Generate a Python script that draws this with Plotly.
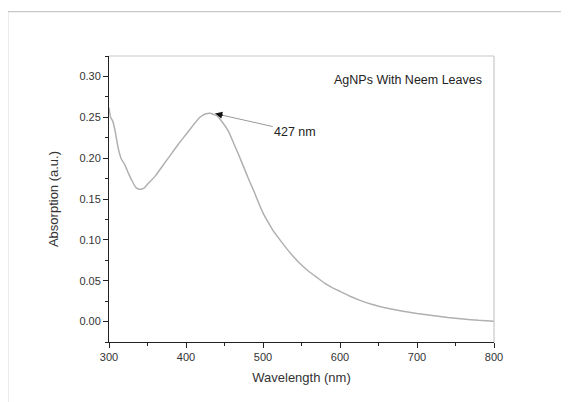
import plotly.graph_objects as go

wavelength = [300, 302, 305, 308, 312, 316, 320, 325, 330, 335, 340, 345, 350, 360, 370, 380, 390,
              400, 410, 418, 425, 431, 440, 448, 455, 462, 468, 475, 481, 488, 494, 500, 507, 514,
              522, 531, 540, 548, 560, 570, 580, 591, 600, 613, 626, 640, 660, 680, 700, 720, 740,
              760, 780, 800]
absorption = [0.262, 0.250, 0.245, 0.233, 0.212, 0.199, 0.193, 0.182, 0.172, 0.164, 0.162, 0.163,
              0.168, 0.178, 0.191, 0.204, 0.217, 0.229, 0.241, 0.250, 0.254, 0.255, 0.252, 0.243,
              0.233, 0.218, 0.205, 0.189, 0.175, 0.160, 0.146, 0.133, 0.121, 0.110, 0.100, 0.089,
              0.079, 0.071, 0.061, 0.054, 0.047, 0.041, 0.037, 0.031, 0.026, 0.0215, 0.0165, 0.013,
              0.010, 0.0075, 0.005, 0.003, 0.0015, 0.0005]
y_ticks = [0.00, 0.05, 0.10, 0.15, 0.20, 0.25, 0.30]
x_ticks = [300, 400, 500, 600, 700, 800]
peak_label = "427 nm"
series_label = "AgNPs With Neem Leaves"

fig = go.Figure()
fig.add_trace(go.Scatter(x=wavelength, y=absorption, mode="lines",
                         line=dict(color="#b0b0b0", width=1.5, shape="spline", smoothing=0.4),
                         hoverinfo="skip", showlegend=False))

font = "Liberation Sans, Arial, sans-serif"
fig.update_layout(
    width=569, height=402,
    margin=dict(l=100.5, r=82.5, t=47.5, b=68),
    paper_bgcolor="white", plot_bgcolor="white",
    font=dict(family=font, color="#333"),
    showlegend=False,
)
fig.update_xaxes(range=[300, 800], tickvals=x_ticks, ticks="outside", ticklen=5, tickwidth=1,
                 tickcolor="#222", showline=True, linecolor="#222", linewidth=1, showgrid=False,
                 zeroline=False, tickfont=dict(size=11, color="#333"),
                 minor=dict(dtick=50, ticks="outside", ticklen=3, tickcolor="#222", showgrid=False),
                 title=dict(text="Wavelength (nm)", font=dict(size=13, color="#333"), standoff=10))
fig.update_yaxes(range=[-0.025, 0.325], tickvals=y_ticks, tickformat=".2f", ticks="outside",
                 ticklen=5, tickwidth=1, tickcolor="#222", showline=True, linecolor="#222",
                 linewidth=1, showgrid=False, zeroline=False, tickfont=dict(size=11, color="#333"),
                 minor=dict(dtick=0.025, ticks="outside", ticklen=3, tickcolor="#222", showgrid=False),
                 title=dict(text="Absorption (a.u.)", font=dict(size=13, color="#333"), standoff=17))

# mirror box lines (top/right) in light gray and outer frame
fig.add_shape(type="line", xref="paper", yref="paper", x0=0, x1=1, y0=1, y1=1,
              line=dict(color="#c8c8c8", width=1.2))
fig.add_shape(type="line", xref="paper", yref="paper", x0=1, x1=1, y0=0, y1=1,
              line=dict(color="#c8c8c8", width=1.2))
fig.add_shape(type="line", xref="paper", yref="paper", x0=-0.263, x1=1.25, y0=1.155, y1=1.155,
              line=dict(color="#c8c8c8", width=1.2))
fig.add_shape(type="line", xref="paper", yref="paper", x0=-0.263, x1=-0.263, y0=1.155, y1=-0.25,
              line=dict(color="#c8c8c8", width=1.2))

# peak annotation
fig.add_annotation(x=438, y=0.2545, xref="x", yref="y", text=peak_label, showarrow=True,
                   ax=80, ay=18, arrowhead=0, arrowwidth=1, arrowcolor="#999",
                   font=dict(size=12.5, color="#222"), xanchor="center", yanchor="middle")
fig.add_annotation(x=438, y=0.2545, xref="x", yref="y", text="", showarrow=True,
                   ax=9, ay=2, arrowhead=2, arrowsize=1, arrowwidth=1.4, arrowcolor="#111")
fig.add_annotation(x=0.975, y=0.915, xref="paper", yref="paper", text=series_label,
                   showarrow=False, xanchor="right", yanchor="middle",
                   font=dict(size=12.5, color="#222"))

fig.write_html("out.html")
